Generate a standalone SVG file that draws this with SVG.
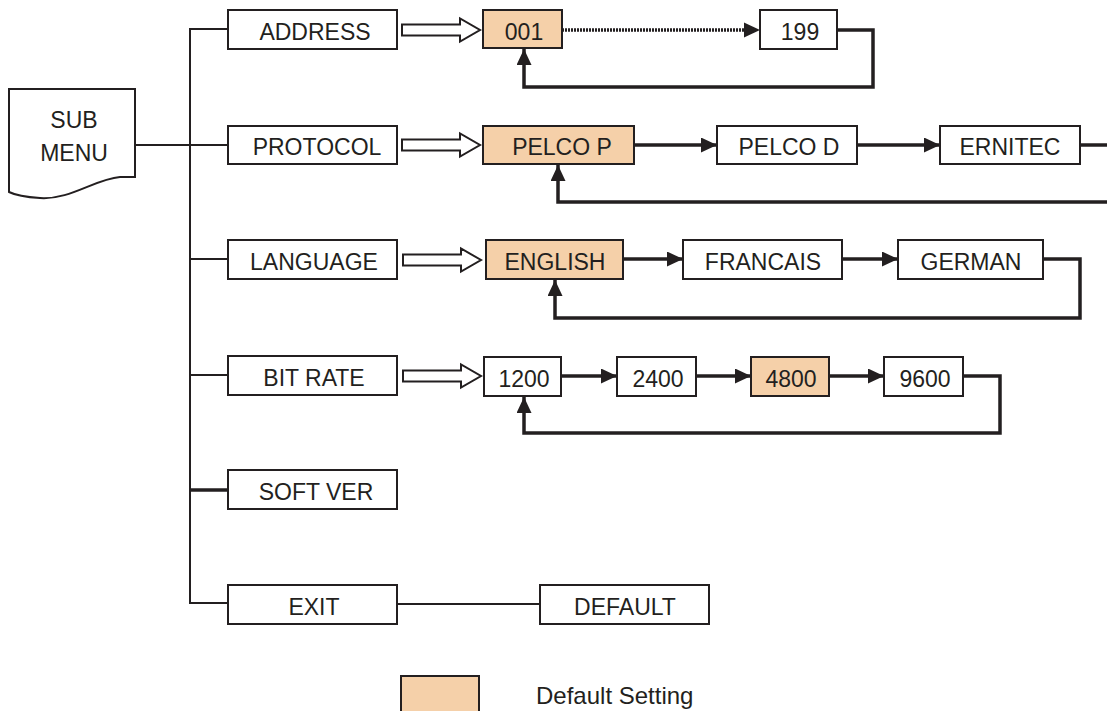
<svg xmlns="http://www.w3.org/2000/svg" width="1107" height="711" viewBox="0 0 1107 711">
<style>
  .box{fill:#fff;stroke:#231f20;stroke-width:2}
  .def{fill:#f5d0a9;stroke:#231f20;stroke-width:2}
  .t{font-family:"Liberation Sans",Arial,sans-serif;font-size:23px;fill:#231f20;text-anchor:middle}
  .thin{fill:none;stroke:#231f20;stroke-width:2}
  .thick{fill:none;stroke:#231f20;stroke-width:3.5}
  .dot{fill:none;stroke:#231f20;stroke-width:3.5;stroke-dasharray:2 1}
  .hollow{fill:#fff;stroke:#231f20;stroke-width:2}
</style>
<defs>
  <marker id="ah" markerUnits="userSpaceOnUse" markerWidth="16" markerHeight="15" viewBox="0 0 16 15" refX="16" refY="7.5" orient="auto">
    <path d="M0,0 L16,7.5 L0,15 Z" fill="#231f20"/>
  </marker>
  <path id="harrow" d="M0,-5.5 H58 V-11.5 L78,0 L58,11.5 V5.5 H0 Z"/>
</defs>

<g id="connectors">
  <path class="thin" d="M135,145 H228"/>
  <path class="thin" d="M228,29 H190 V603 H228"/>
  <path class="thin" d="M190,259 H228"/>
  <path class="thin" d="M190,375 H228"/>
  <path class="thick" d="M190,490 H228"/>
  <path class="thin" d="M397,604 H540"/>
  <use href="#harrow" class="hollow" x="402" y="30"/>
  <use href="#harrow" class="hollow" x="402" y="145"/>
  <use href="#harrow" class="hollow" x="403" y="260"/>
  <use href="#harrow" class="hollow" x="403" y="376"/>
  <path class="dot" d="M562,30 H746"/>
  <path d="M744,22.5 L760,30 L744,37.5 Z" fill="#231f20"/>
  <path class="thick" d="M837,30 H873 V87 H524 V49" marker-end="url(#ah)"/>
  <path class="thick" d="M634,145 H717" marker-end="url(#ah)"/>
  <path class="thick" d="M857,145 H940" marker-end="url(#ah)"/>
  <path class="thick" d="M1080,145 H1107"/>
  <path class="thick" d="M1107,202 H558 V165" marker-end="url(#ah)"/>
  <path class="thick" d="M623,259 H683" marker-end="url(#ah)"/>
  <path class="thick" d="M842,259 H898" marker-end="url(#ah)"/>
  <path class="thick" d="M1043,259 H1080 V318 H555 V280" marker-end="url(#ah)"/>
  <path class="thick" d="M561,376 H617" marker-end="url(#ah)"/>
  <path class="thick" d="M696,376 H751" marker-end="url(#ah)"/>
  <path class="thick" d="M829,376 H884" marker-end="url(#ah)"/>
  <path class="thick" d="M963,376 H1000 V433 H524 V397" marker-end="url(#ah)"/>
</g>

<g id="submenu">
  <path class="box" d="M9,89 H135 V177 L120,177 C95,179 70,200 40,198 C25,197 15,195 9,192 Z"/>
  <text class="t" x="74" y="128">SUB</text>
  <text class="t" x="74" y="161">MENU</text>
</g>

<g id="address"><rect class="box" x="228" y="10" width="169" height="39"/><text class="t" x="315" y="40">ADDRESS</text></g>
<g id="protocol"><rect class="box" x="228" y="126" width="169" height="38"/><text class="t" x="317" y="155">PROTOCOL</text></g>
<g id="language"><rect class="box" x="228" y="240" width="169" height="39"/><text class="t" x="314" y="270">LANGUAGE</text></g>
<g id="bitrate"><rect class="box" x="228" y="356" width="169" height="39"/><text class="t" x="314" y="386">BIT RATE</text></g>
<g id="softver"><rect class="box" x="228" y="470" width="169" height="39"/><text class="t" x="316" y="500">SOFT VER</text></g>
<g id="exit"><rect class="box" x="228" y="585" width="169" height="39"/><text class="t" x="314" y="615">EXIT</text></g>
<g id="default"><rect class="box" x="540" y="585" width="169" height="39"/><text class="t" x="625" y="615">DEFAULT</text></g>

<g id="v001"><rect class="def" x="483" y="10" width="79" height="38"/><text class="t" x="524" y="40">001</text></g>
<g id="v199"><rect class="box" x="760" y="10" width="77" height="39"/><text class="t" x="800" y="40">199</text></g>

<g id="pelcop"><rect class="def" x="483" y="126" width="151" height="38"/><text class="t" x="562" y="155">PELCO P</text></g>
<g id="pelcod"><rect class="box" x="717" y="126" width="140" height="38"/><text class="t" x="789" y="155">PELCO D</text></g>
<g id="ernitec"><rect class="box" x="940" y="126" width="140" height="38"/><text class="t" x="1010" y="155">ERNITEC</text></g>

<g id="english"><rect class="def" x="486" y="240" width="137" height="39"/><text class="t" x="555" y="270">ENGLISH</text></g>
<g id="francais"><rect class="box" x="683" y="240" width="159" height="39"/><text class="t" x="763" y="270">FRANCAIS</text></g>
<g id="german"><rect class="box" x="898" y="240" width="145" height="39"/><text class="t" x="971" y="270">GERMAN</text></g>

<g id="b1200"><rect class="box" x="484" y="357" width="77" height="39"/><text class="t" x="524" y="387">1200</text></g>
<g id="b2400"><rect class="box" x="617" y="357" width="79" height="39"/><text class="t" x="658" y="387">2400</text></g>
<g id="b4800"><rect class="def" x="751" y="357" width="78" height="39"/><text class="t" x="791" y="387">4800</text></g>
<g id="b9600"><rect class="box" x="884" y="357" width="79" height="39"/><text class="t" x="925" y="387">9600</text></g>

<g id="legend">
  <rect class="def" x="401" y="676" width="78" height="40"/>
  <text class="t" x="536" y="704" style="text-anchor:start;font-size:24px">Default Setting</text>
</g>
</svg>
